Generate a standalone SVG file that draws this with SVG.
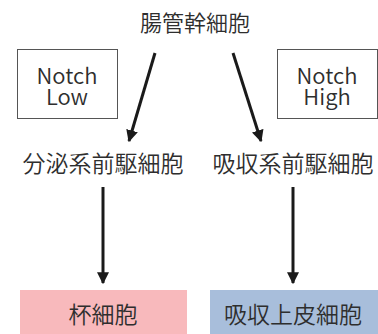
<svg xmlns="http://www.w3.org/2000/svg" width="378" height="334" viewBox="0 0 378 334">
<style>
.t{font-family:"Noto Sans CJK JP","Noto Sans",sans-serif;fill:#2e2e2e;text-anchor:middle;font-weight:350}
.c{font-size:23px}
.h{font-size:22px}
.n{font-size:22px}
.box{fill:#fff;stroke:#555;stroke-width:1}
.ln{stroke:#1a1a1a;stroke-width:3;fill:none;marker-end:url(#ah)}
</style>
<defs>
<marker id="ah" viewBox="0 0 10 10" refX="9" refY="5" markerWidth="4" markerHeight="4" orient="auto" markerUnits="strokeWidth">
<path d="M0,0 L10,5 L0,10 z" fill="#1a1a1a"/>
</marker>
</defs>
<g id="stem"><text class="t h" x="195" y="31">腸管幹細胞</text></g>
<g id="notch-low"><rect class="box" x="17.5" y="49.5" width="100" height="69"/><text class="t n" x="67" y="84">Notch</text><text class="t n" x="67" y="105">Low</text></g>
<g id="notch-high"><rect class="box" x="277.5" y="49.5" width="100" height="69"/><text class="t n" x="327" y="84">Notch</text><text class="t n" x="327" y="105">High</text></g>
<g id="secretory"><text class="t c" x="103" y="172">分泌系前駆細胞</text></g>
<g id="absorptive"><text class="t c" x="293" y="172">吸収系前駆細胞</text></g>
<g id="goblet"><rect x="20" y="290" width="167" height="44" fill="#f8b9bc"/><text class="t c" x="103" y="323">杯細胞</text></g>
<g id="enterocyte"><rect x="210" y="290" width="168" height="44" fill="#a8bedb"/><text class="t c" x="293" y="323">吸収上皮細胞</text></g>
<g id="connectors">
<line class="ln" x1="155" y1="53" x2="129" y2="141"/>
<line class="ln" x1="233" y1="53" x2="261" y2="141"/>
<line class="ln" x1="103" y1="187" x2="103" y2="283"/>
<line class="ln" x1="293" y1="187" x2="293" y2="283"/>
</g>
</svg>
